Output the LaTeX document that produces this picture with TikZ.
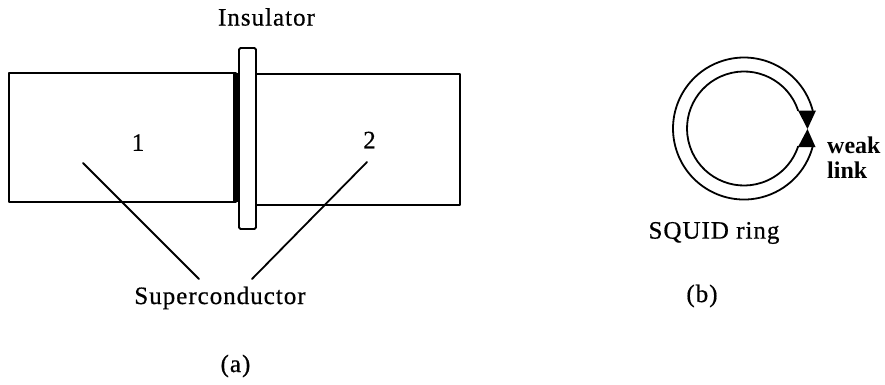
\documentclass[tikz,border=0pt]{standalone}
\usepackage{fontspec}
\setmainfont[FakeBold=0.6,LetterSpace=4]{Liberation Serif}
\newfontfamily\wkfont{Liberation Serif}
\tikzset{
  line/.style={line width=1.8bp, line cap=round, line join=round, black},
  lbl/.style={inner sep=0pt, font=\fontsize{25bp}{28bp}\selectfont},
  boldlbl/.style={inner sep=0pt, align=left, font=\fontsize{24bp}{25bp}\wkfont\bfseries},
}
\begin{document}
\begin{tikzpicture}[x=1bp,y=-1bp]
\useasboundingbox (0,0) rectangle (885,384);
% superconductors
\draw[line] (236,73) -- (9,73) -- (9,202) -- (236,202);
\draw[line] (256,74) -- (460,74) -- (460,205) -- (256,205);
\fill (232.5,73) rectangle (239,202);
% insulator
\draw[line, fill=white, rounded corners=1.5bp] (239,48) rectangle (256,229);
% labels
\node[lbl] (ins) at (266.5,17) {Insulator};
\node[lbl] (one) at (138,142.5) {1};
\node[lbl] (two) at (369.5,140) {2};
\node[lbl] (sc) at (220,298) {Superconductor};
\node[lbl] (a) at (235.5,366) {(a)};
\coordinate (la) at (83,163);
\coordinate (lb) at (199,279);
\coordinate (ra) at (367,162);
\coordinate (rb) at (252,279);
\draw[line] (la) -- (lb);
\draw[line] (ra) -- (rb);
% ring
\draw[line] (812.7,110.5) arc[start angle=-14.7, end angle=-345.3, radius=71];
\draw[line] (798.1,110.5) arc[start angle=-18.4, end angle=-341.6, radius=57];
% weak link
\fill (798,110.5) -- (816,110.5) -- (807.5,129) -- cycle;
\fill (798,147) -- (815.5,147) -- (807.5,129) -- cycle;
\node[boldlbl, anchor=west] (wl) at (827,157.5) {weak\\link};
\node[lbl] (sr) at (714,233) {SQUID ring};
\node[lbl] (b) at (702,296) {(b)};
\end{tikzpicture}
\end{document}
